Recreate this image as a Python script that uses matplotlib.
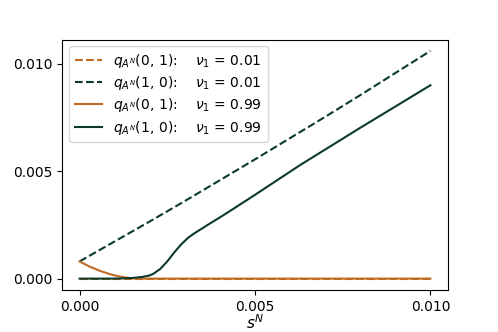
import numpy as np
import matplotlib
matplotlib.use("Agg")
import matplotlib.pyplot as plt

# s^N grid points
s_dash = [0.0, 0.001, 0.002, 0.003, 0.004, 0.005, 0.006, 0.007, 0.008, 0.009, 0.010]
q01_nu001 = [0.0, 0.0, 0.0, 0.0, 0.0, 0.0, 0.0, 0.0, 0.0, 0.0, 0.0]
q10_nu001 = [0.0008, 0.00173, 0.00266, 0.00361, 0.00458, 0.00555, 0.00654, 0.00753, 0.00854, 0.00957, 0.0106]

s_solid = [0.0, 0.0003, 0.0006, 0.0009, 0.0012, 0.0015, 0.0018, 0.0020, 0.0021, 0.0023,
           0.0025, 0.0027, 0.0029, 0.0031, 0.0033, 0.0035, 0.0037, 0.0040, 0.0043,
           0.0050, 0.0063, 0.0080, 0.0100]
q01_nu099 = [0.0008, 0.00055, 0.00035, 0.00019, 0.00008, 0.00001, 0.0, 0.0, 0.0, 0.0,
             0.0, 0.0, 0.0, 0.0, 0.0, 0.0, 0.0, 0.0, 0.0,
             0.0, 0.0, 0.0, 0.0]
q10_nu099 = [0.0, 0.0, 0.0, 0.0, 0.00001, 0.00003, 0.00008, 0.00015, 0.00022, 0.00045,
             0.00080, 0.00122, 0.00160, 0.00191, 0.00214, 0.00234, 0.00255, 0.00285, 0.00316,
             0.00390, 0.00530, 0.00702, 0.0090]

orange = '#c06a22'
green = '#0b3a28'

fig = plt.figure(figsize=(4.98, 3.32), dpi=100)
ax = fig.add_axes([0.1245, 0.1265, 0.775, 0.7545])

ax.plot(s_dash, q01_nu001, '--', color=orange, lw=1.5,
        label=r'$q_{A^N}(0,\,1)$:    $\nu_1$ = 0.01')
ax.plot(s_dash, q10_nu001, '--', color=green, lw=1.5,
        label=r'$q_{A^N}(1,\,0)$:    $\nu_1$ = 0.01')
ax.plot(s_solid, q01_nu099, '-', color=orange, lw=1.5,
        label=r'$q_{A^N}(0,\,1)$:    $\nu_1$ = 0.99')
ax.plot(s_solid, q10_nu099, '-', color=green, lw=1.5,
        label=r'$q_{A^N}(1,\,0)$:    $\nu_1$ = 0.99')

ax.set_xticks([0.0, 0.005, 0.010])
ax.set_xticklabels(['0.000', '0.005', '0.010'])
ax.set_yticks([0.0, 0.005, 0.010])
ax.set_yticklabels(['0.000', '0.005', '0.010'])
ax.set_xlabel(r'$s^N$', labelpad=0, fontsize=11)
ax.legend(loc='upper left', labelspacing=0.3)

fig.savefig('out.png', dpi=100)
